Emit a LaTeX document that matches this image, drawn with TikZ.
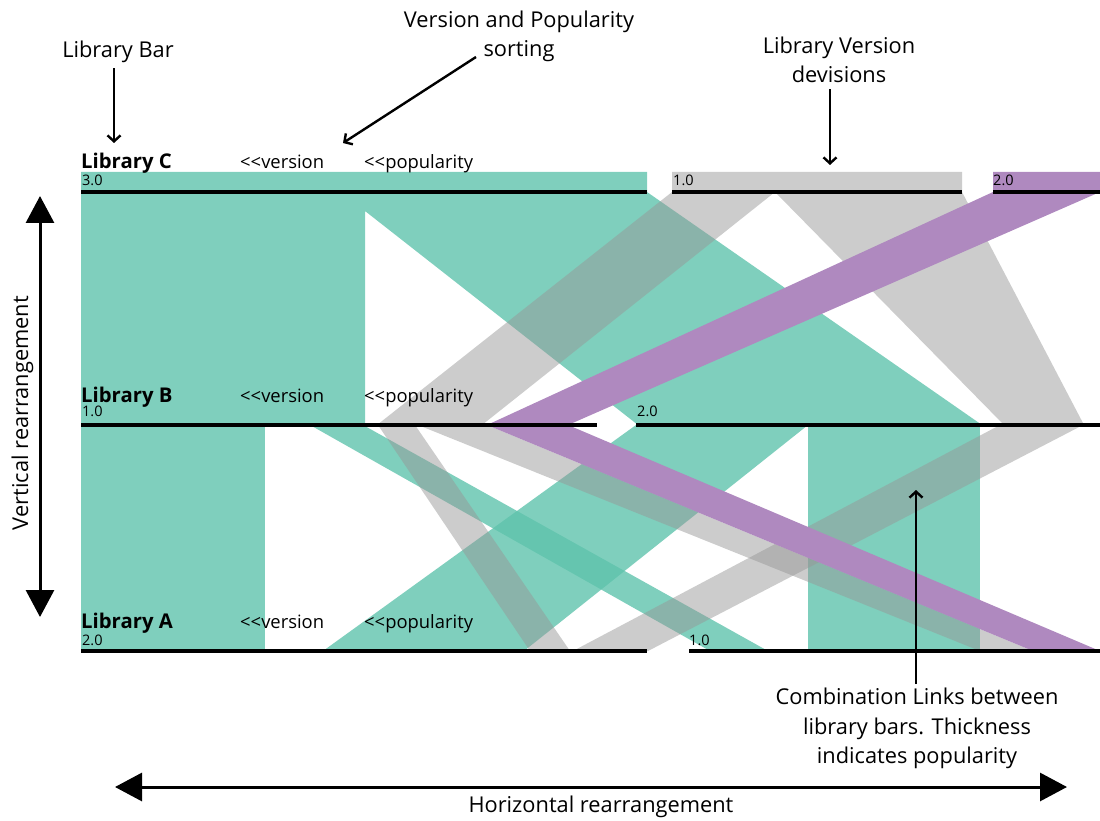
\documentclass[tikz,border=0pt]{standalone}
\usepackage{fontspec}
\setmainfont{Open Sans}
\usetikzlibrary{arrows.meta}

\definecolor{tealband}{RGB}{95,195,172}
\definecolor{grayband}{RGB}{151,151,151}
\definecolor{purpleband}{RGB}{175,137,191}

% two separate "<" glyphs, kept apart so they are not merged into a guillemet
\newcommand{\sortmark}{<\kern0pt<}

\tikzset{
  tealfill/.style={fill=tealband, fill opacity=0.8},
  grayfill/.style={fill=grayband, fill opacity=0.49},
  purplefill/.style={fill=purpleband},
  bar/.style={line width=4.3pt},
  callout/.style={line width=2.4pt, -{Straight Barb[length=6pt,width=13pt]}},
  bigarrow/.style={line width=3pt, {Triangle[length=27pt,width=28pt]}-{Triangle[length=27pt,width=28pt]}},
  lbl/.style={font=\fontsize{21.8}{26}\selectfont, inner sep=0pt, anchor=base},
  libname/.style={font=\bfseries\fontsize{20.3}{24}\selectfont, inner sep=0pt, anchor=base west},
  sortkey/.style={font=\fontsize{18.4}{22}\selectfont, inner sep=0pt, anchor=base west},
  ver/.style={font=\fontsize{14.5}{17}\selectfont, inner sep=0pt, anchor=base west},
}

\begin{document}
\begin{tikzpicture}[x=1pt, y=-1pt]
\useasboundingbox (0,0) rectangle (1100,821);

% ---- teal links (library C 3.0, B 1.0 / 2.0, A 2.0 / 1.0)
\fill[tealfill] (81,172) -- (647,172) -- (647,192) -- (982,425) -- (638,425)
  -- (365,211) -- (365,425) -- (81,425) -- cycle;
\fill[tealfill] (81,425) rectangle (265,651);
\fill[tealfill] (310,425) -- (363,425) -- (768,651) -- (710,651) -- cycle;
\fill[tealfill] (636,425) -- (808,425) -- (524,651) -- (323,651) -- cycle;
\fill[tealfill] (808,425) rectangle (980,651);

% ---- gray links (library C 1.0)
\fill[grayfill] (672,172) -- (962,172) -- (962,192) -- (1084,425) -- (1004,425)
  -- (775,192) -- (482,425) -- (377,425) -- (672,192) -- cycle;
\fill[grayfill] (378,425) -- (415,425) -- (570,651) -- (530,651) -- cycle;
\fill[grayfill] (418,425) -- (487,425) -- (1033,651) -- (980,651) -- cycle;
\fill[grayfill] (1000,425) -- (1083,425) -- (648,651) -- (573,651) -- cycle;

% ---- purple link (library C 2.0)
\fill[purplefill] (993,172) -- (1100,172) -- (1100,192) -- (568,425) -- (1100,651)
  -- (1033,651) -- (487,425) -- (993,192) -- cycle;

% ---- library bars split into versions
\draw[bar] (81,192) -- (647,192);
\draw[bar] (672,192) -- (962,192);
\draw[bar] (993,192) -- (1100,192);
\draw[bar] (81,425) -- (597,425);
\draw[bar] (636,425) -- (1100,425);
\draw[bar] (81,651) -- (647,651);
\draw[bar] (689,651) -- (1100,651);

% ---- bar headers
\node[libname] (libC) at (81,169) {Library C};
\node[sortkey] (verC) at (240,169) {\sortmark version};
\node[sortkey] (popC) at (364,169) {\sortmark popularity};
\node[ver] (c30) at (82,186) {3.0};
\node[ver] (c10) at (673,186) {1.0};
\node[ver] (c20) at (993,186) {2.0};

\node[libname] (libB) at (81,402) {Library B};
\node[sortkey] (verB) at (240,402) {\sortmark version};
\node[sortkey] (popB) at (364,402) {\sortmark popularity};
\node[ver] (b10) at (82,416) {1.0};
\node[ver] (b20) at (637,416) {2.0};

\node[libname] (libA) at (81,628) {Library A};
\node[sortkey] (verA) at (240,628) {\sortmark version};
\node[sortkey] (popA) at (364,628) {\sortmark popularity};
\node[ver] (a20) at (82,645) {2.0};
\node[ver] (a10) at (689,645) {1.0};

% ---- annotations
\node[lbl] (barlbl) at (118,58) {Library Bar};
\coordinate (barTip) at (114,143);
\draw[callout] (barlbl.south -| barTip) ++(0,5) -- (barTip);

\node[lbl] (sortlblA) at (519,28) {Version and Popularity};
\node[lbl] (sortlblB) at (519,57) {sorting};
\coordinate (sortFrom) at (476,57);
\coordinate (sortTip) at (343,143);
\draw[callout] (sortFrom) -- (sortTip);

\node[lbl] (divlblA) at (839,54) {Library Version};
\node[lbl] (divlblB) at (839,83) {devisions};
\coordinate (divTip) at (830,165);
\draw[callout] (divlblB.south -| divTip) ++(0,6) -- (divTip);

\node[lbl] (comblblA) at (917,704) {Combination Links between};
\node[lbl] (comblblB) at (917,734) {library bars. Thickness};
\node[lbl] (comblblC) at (917,763) {indicates popularity};
\coordinate (combFrom) at (916,684);
\coordinate (combTip) at (916,490);
\draw[callout] (combFrom) -- (combTip);

% ---- rearrangement axes
\coordinate (vTop) at (40,196);
\coordinate (vBot) at (40,617);
\draw[bigarrow] (vTop) -- (vBot);
\node[lbl, rotate=90] (vlbl) at (28,413) {Vertical rearrangement};

\coordinate (hLeft) at (115,787);
\coordinate (hRight) at (1067,787);
\draw[bigarrow] (hLeft) -- (hRight);
\node[lbl] (hlbl) at (601,812) {Horizontal rearrangement};
\end{tikzpicture}
\end{document}
